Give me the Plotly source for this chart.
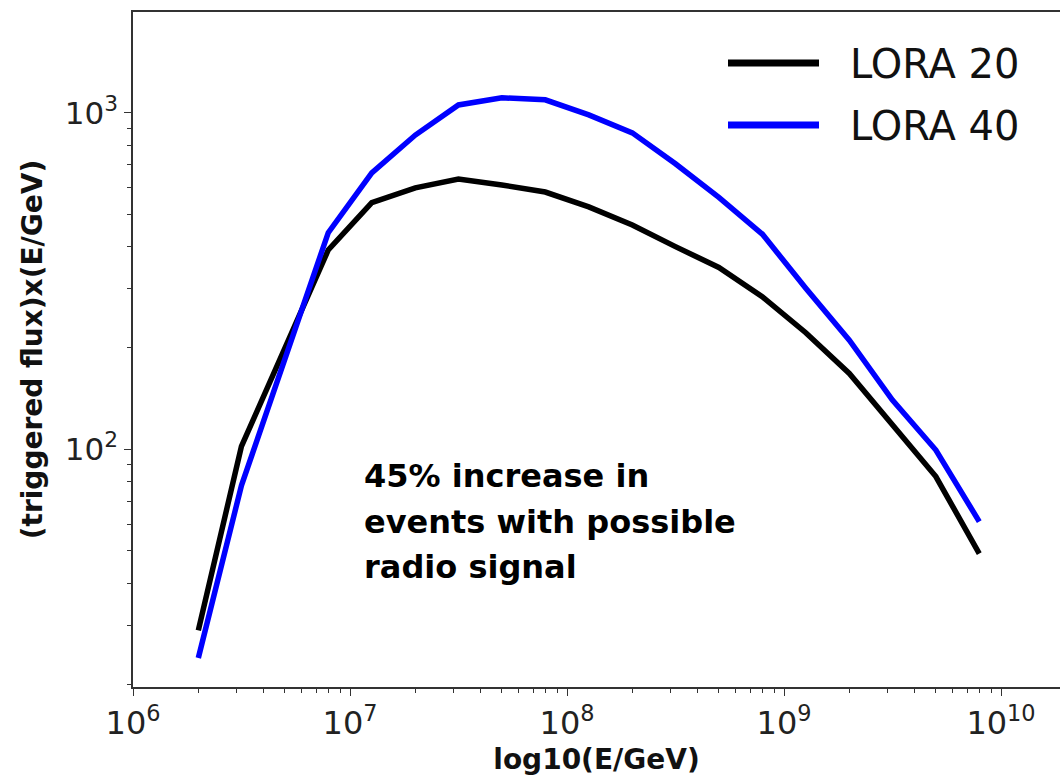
import plotly.graph_objects as go

# ---- data ----
energy_gev = [2.0e6, 3.16e6, 7.94e6, 1.26e7, 2.0e7, 3.16e7, 5.01e7, 7.94e7, 1.26e8,
              2.0e8, 3.16e8, 5.01e8, 7.94e8, 1.26e9, 2.0e9, 3.16e9, 5.01e9, 7.94e9]
lora20 = [29, 102, 391, 540, 598, 635, 610, 581, 525, 464, 400, 347, 284, 222, 168, 118, 83, 49]
lora40 = [24, 78, 440, 662, 858, 1054, 1107, 1092, 985, 871, 705, 560, 436, 301, 211, 140, 99.5, 61]
series_names = ["LORA 20", "LORA 40"]
series_colors = ["#000000", "#0000ff"]

x_tickvals = [1e6, 1e7, 1e8, 1e9, 1e10]
x_ticktext = ["10<sup>6</sup>", "10<sup>7</sup>", "10<sup>8</sup>", "10<sup>9</sup>", "10<sup>10</sup>"]
y_tickvals = [1e2, 1e3]
y_ticktext = ["10<sup>2</sup>", "10<sup>3</sup>"]

note_lines = ["45% increase in", "events with possible", "radio signal"]

# ---- layout geometry ----
W, H = 1060, 776
L, R, T, B = 133, 0, 12, 89
pw, ph = W - L - R, H - T - B

def px_x(p):
    return (p - L) / pw

def px_y(p):
    return (H - B - p) / ph

x_minor = [m * 10 ** k for k in range(6, 11) for m in range(2, 10)]
y_minor = [m * 10 ** k for k in range(1, 4) for m in range(2, 10)]

fig = go.Figure()
for name, vals, col in zip(series_names, [lora20, lora40], series_colors):
    fig.add_trace(go.Scatter(x=energy_gev, y=vals, mode="lines", name=name,
                             line=dict(color=col, width=5.5), showlegend=False))

axis_line = dict(showline=True, linecolor="#333333", linewidth=1.5, showgrid=False,
                 zeroline=False, ticks="outside", ticklen=7, tickwidth=1.2,
                 tickcolor="#333333")

fig.update_xaxes(type="log", range=[6, 6 + pw / 217.0], mirror=True,
                 tickmode="array", tickvals=x_tickvals, ticktext=x_ticktext,
                 tickfont=dict(family="DejaVu Sans", size=32, color="#222222"),
                 minor=dict(tickmode="array", tickvals=x_minor, ticks="outside",
                            ticklen=4, tickwidth=1, tickcolor="#333333", showgrid=False),
                 title=dict(text="log10(E/GeV)", standoff=8,
                            font=dict(family="DejaVu Sans", size=28, color="#111111",
                                      weight="bold")),
                 **axis_line)
fig.update_yaxes(type="log", range=[1.294, 3.299], mirror=False,
                 tickmode="array", tickvals=y_tickvals, ticktext=y_ticktext,
                 tickfont=dict(family="DejaVu Sans", size=31, color="#222222"),
                 minor=dict(tickmode="array", tickvals=y_minor, ticks="outside",
                            ticklen=4, tickwidth=1, tickcolor="#333333", showgrid=False),
                 title=dict(text="(triggered flux)x(E/GeV)", standoff=14,
                            font=dict(family="DejaVu Sans", size=28, color="#111111",
                                      weight="bold")),
                 **axis_line)

# manual legend matching the reference's long line samples
leg_y = [63, 125]
for name, col, yy in zip(series_names, series_colors, leg_y):
    fig.add_shape(type="line", xref="paper", yref="paper",
                  x0=px_x(728), x1=px_x(819), y0=px_y(yy), y1=px_y(yy),
                  line=dict(color=col, width=7))
    fig.add_annotation(xref="paper", yref="paper", x=px_x(848), y=px_y(yy + 1),
                       text=name, showarrow=False, xanchor="left", yanchor="middle",
                       font=dict(family="DejaVu Sans", size=40, color="#111111"))

note_y = [476, 522, 567]
for line_text, yy in zip(note_lines, note_y):
    fig.add_annotation(xref="paper", yref="paper", x=px_x(362), y=px_y(yy),
                       text=line_text, showarrow=False, xanchor="left", yanchor="middle",
                       font=dict(family="DejaVu Sans", size=32, color="#000000",
                                 weight="bold"))

fig.update_layout(width=W, height=H, margin=dict(l=L, r=R, t=T, b=B, autoexpand=False),
                  paper_bgcolor="white", plot_bgcolor="white")

fig.write_html("out.html")
